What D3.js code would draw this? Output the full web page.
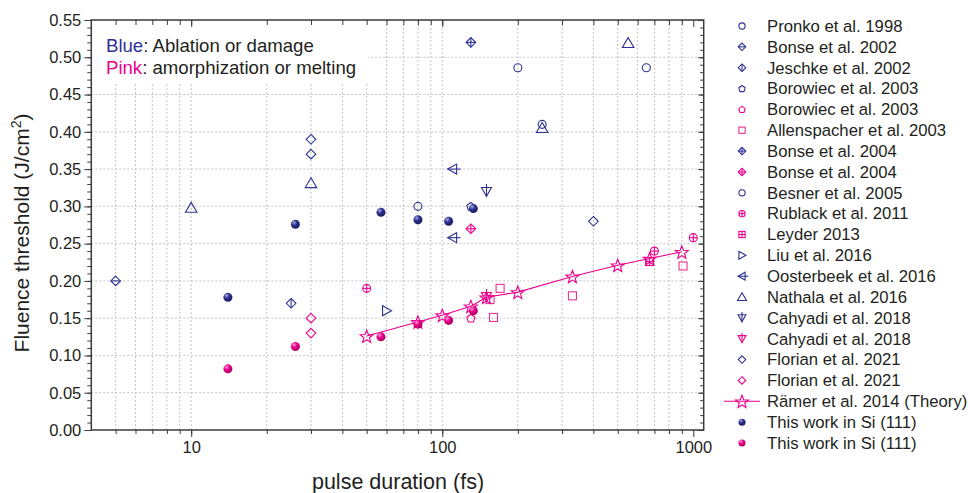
<!DOCTYPE html>
<html><head><meta charset="utf-8">
<script src="https://cdn.jsdelivr.net/npm/d3@7"></script>
<style>body{margin:0;background:#fff}svg{display:block;font-family:"Liberation Sans",Arial,sans-serif}</style>
</head><body><svg id="c" width="970" height="493"></svg>
<script>
// ---- data ----
const xTicks = [10, 100, 1000];
const yTicks = [0, 0.05, 0.10, 0.15, 0.20, 0.25, 0.30, 0.35, 0.40, 0.45, 0.50, 0.55];
const pronkoX = [200, 650], pronkoY = [0.486, 0.486];
const bonse2002X = [5], bonse2002Y = [0.200];
const jeschkeX = [25], jeschkeY = [0.170];
const borowiecBX = [130], borowiecBY = [0.300];
const borowiecPX = [130], borowiecPY = [0.150];
const allenX = [155, 160, 170, 330, 910], allenY = [0.175, 0.151, 0.190, 0.180, 0.220];
const bonse2004BX = [130], bonse2004BY = [0.520];
const bonse2004PX = [130], bonse2004PY = [0.270];
const besnerX = [80, 250], besnerY = [0.300, 0.410];
const rublackX = [50, 700, 1000], rublackY = [0.190, 0.240, 0.258];
const leyderX = [670], leyderY = [0.226];
const liuX = [60], liuY = [0.160];
const oosterX = [110, 110], oosterY = [0.350, 0.258];
const nathalaX = [10, 30, 250, 550], nathalaY = [0.298, 0.331, 0.405, 0.519];
const cahyadiBX = [150], cahyadiBY = [0.320];
const cahyadiPX = [150], cahyadiPY = [0.179];
const florianBX = [30, 30, 400], florianBY = [0.390, 0.370, 0.280];
const florianPX = [30, 30], florianPY = [0.150, 0.130];
const ramerX = [50, 80, 100, 130, 150, 200, 330, 500, 670, 900];
const ramerY = [0.126, 0.145, 0.154, 0.166, 0.178, 0.185, 0.206, 0.221, 0.230, 0.239];
const thisX = [14, 26, 57, 80, 106, 133];
const thisBY = [0.178, 0.276, 0.292, 0.282, 0.280, 0.297];
const thisPY = [0.082, 0.112, 0.125, 0.142, 0.147, 0.160];

const BLUE = "#2e3192", PINK = "#ec008c", PINKL = "#e8338f";
const series = [
  {name: "Pronko et al. 1998", sym: "circle", c: BLUE, x: pronkoX, y: pronkoY},
  {name: "Bonse et al. 2002", sym: "diamondH", c: BLUE, x: bonse2002X, y: bonse2002Y},
  {name: "Jeschke et al. 2002", sym: "diamondV", c: BLUE, x: jeschkeX, y: jeschkeY},
  {name: "Borowiec et al. 2003", sym: "pentagon", c: BLUE, x: borowiecBX, y: borowiecBY},
  {name: "Borowiec et al. 2003", sym: "pentagon", c: PINK, x: borowiecPX, y: borowiecPY},
  {name: "Allenspacher et al. 2003", sym: "square", c: PINKL, x: allenX, y: allenY},
  {name: "Bonse et al. 2004", sym: "diamondP", c: BLUE, x: bonse2004BX, y: bonse2004BY},
  {name: "Bonse et al. 2004", sym: "diamondP", c: PINK, x: bonse2004PX, y: bonse2004PY},
  {name: "Besner et al. 2005", sym: "circle", c: BLUE, x: besnerX, y: besnerY},
  {name: "Rublack et al. 2011", sym: "circleP", c: PINK, x: rublackX, y: rublackY},
  {name: "Leyder 2013", sym: "squareP", c: PINK, x: leyderX, y: leyderY},
  {name: "Liu et al. 2016", sym: "triRight", c: BLUE, x: liuX, y: liuY},
  {name: "Oosterbeek et al. 2016", sym: "triLeft", c: BLUE, x: oosterX, y: oosterY},
  {name: "Nathala et al. 2016", sym: "triUp", c: BLUE, x: nathalaX, y: nathalaY},
  {name: "Cahyadi et al. 2018", sym: "triDown", c: BLUE, x: cahyadiBX, y: cahyadiBY},
  {name: "Cahyadi et al. 2018", sym: "triDown", c: PINK, x: cahyadiPX, y: cahyadiPY},
  {name: "Florian et al. 2021", sym: "diamond", c: BLUE, x: florianBX, y: florianBY},
  {name: "Florian et al. 2021", sym: "diamond", c: PINK, x: florianPX, y: florianPY},
  {name: "Rämer et al. 2014 (Theory)", sym: "star", c: PINK, x: ramerX, y: ramerY, line: true},
  {name: "This work in Si (111)", sym: "sphereB", c: BLUE, x: thisX, y: thisBY},
  {name: "This work in Si (111)", sym: "sphereP", c: PINK, x: thisX, y: thisPY}
];

// ---- layout ----
const svg = d3.select("#c");
const L = 91.3, R = 703.7, T = 20, B = 430;
const x = d3.scaleLog().domain([4, 1100]).range([L, R]);
const y = d3.scaleLinear().domain([0, 0.55]).range([B, T]);
const TXT = "#231f20", AX = "#3a3a3a", GRID = "#c4c4c4";

const defs = svg.append("defs");
function grad(id, hi, mid, lo) {
  const g = defs.append("radialGradient").attr("id", id).attr("cx", "35%").attr("cy", "30%").attr("r", "70%");
  g.append("stop").attr("offset", "0%").attr("stop-color", hi);
  g.append("stop").attr("offset", "45%").attr("stop-color", mid);
  g.append("stop").attr("offset", "100%").attr("stop-color", lo);
}
grad("gB", "#a9acdf", "#2e3192", "#1a1c5c");
grad("gP", "#ff9fd2", "#ec008c", "#a8005f");

const minorX = [];
[1, 10, 100].forEach(d => { for (let k = 1; k <= 9; k++) { const v = d * k; if (v >= 5 && v <= 1000) minorX.push(v); } });
const minorY = d3.range(0, 56).map(i => i / 100);

// grid
const grid = svg.append("g").attr("stroke", GRID).attr("stroke-width", 1).attr("stroke-dasharray", "2,2");
minorX.forEach(v => grid.append("line").attr("x1", x(v)).attr("x2", x(v)).attr("y1", T).attr("y2", B));
yTicks.slice(1, -1).forEach(v => grid.append("line").attr("x1", L).attr("x2", R).attr("y1", y(v)).attr("y2", y(v)));

// annotation box
svg.append("rect").attr("x", L + 1).attr("y", T + 1).attr("width", 276).attr("height", 61).attr("fill", "#fff");
const ann = svg.append("g").attr("font-size", 18.6).attr("fill", TXT);
const a1 = ann.append("text").attr("x", 106).attr("y", 52);
a1.append("tspan").attr("fill", BLUE).text("Blue");
a1.append("tspan").text(": Ablation or damage");
const a2 = ann.append("text").attr("x", 106).attr("y", 74);
a2.append("tspan").attr("fill", PINK).text("Pink");
a2.append("tspan").text(": amorphization or melting");

// axes
function styleAxis(g) { g.select(".domain").remove(); g.selectAll("line").attr("stroke", AX); g.selectAll("text").attr("fill", TXT).attr("font-size", 16.5).attr("font-family", "Liberation Sans, Arial, sans-serif"); }
svg.append("g").attr("transform", `translate(0,${B})`).call(d3.axisBottom(x).tickValues(minorX).tickFormat("").tickSize(4)).call(styleAxis);
svg.append("g").attr("transform", `translate(0,${B})`).call(d3.axisBottom(x).tickValues(xTicks).tickFormat(d3.format("d")).tickSize(7).tickPadding(4)).call(styleAxis);
svg.append("g").attr("transform", `translate(0,${T})`).call(d3.axisTop(x).tickValues(minorX).tickFormat("").tickSize(-5)).call(styleAxis);
svg.append("g").attr("transform", `translate(0,${T})`).call(d3.axisTop(x).tickValues(xTicks).tickFormat("").tickSize(-7)).call(styleAxis);
svg.append("g").attr("transform", `translate(${L},0)`).call(d3.axisLeft(y).tickValues(minorY).tickFormat("").tickSize(4)).call(styleAxis);
svg.append("g").attr("transform", `translate(${L},0)`).call(d3.axisLeft(y).tickValues(yTicks).tickFormat(d3.format(".2f")).tickSize(7).tickPadding(3)).call(styleAxis);
svg.append("g").attr("transform", `translate(${R},0)`).call(d3.axisRight(y).tickValues(minorY).tickFormat("").tickSize(-3.5)).call(styleAxis);
svg.append("g").attr("transform", `translate(${R},0)`).call(d3.axisRight(y).tickValues(yTicks).tickFormat("").tickSize(-5.5)).call(styleAxis);
svg.append("rect").attr("x", L).attr("y", T).attr("width", R - L).attr("height", B - T).attr("fill", "none").attr("stroke", AX).attr("stroke-width", 1.5);

// titles
svg.append("text").attr("x", 398).attr("y", 489).attr("text-anchor", "middle").attr("font-size", 21.5).attr("fill", TXT).text("pulse duration (fs)");
const yt = svg.append("text").attr("transform", "translate(29,233) rotate(-90)").attr("text-anchor", "middle").attr("font-size", 21).attr("fill", TXT);
yt.append("tspan").text("Fluence threshold (J/cm");
yt.append("tspan").attr("font-size", 14).attr("dy", -8).text("2");
yt.append("tspan").attr("dy", 8).text(")");

// symbols
function drawSym(g, sym, c, s) {
  const sw = 1.1;
  const add = (tag) => g.append(tag).attr("fill", "none").attr("stroke", c).attr("stroke-width", sw);
  const line = (x1, y1, x2, y2) => add("line").attr("x1", x1).attr("y1", y1).attr("x2", x2).attr("y2", y2);
  const poly = (pts) => add("polygon").attr("points", pts.map(p => p.join(",")).join(" "));
  const r = 4 * s, d = 4.8 * s;
  switch (sym) {
    case "circle": add("circle").attr("r", r); break;
    case "circleP": add("circle").attr("r", r); line(-r, 0, r, 0); line(0, -r, 0, r); break;
    case "diamond": poly([[0, -d], [d, 0], [0, d], [-d, 0]]); break;
    case "diamondH": poly([[0, -d], [d, 0], [0, d], [-d, 0]]); line(-d, 0, d, 0); break;
    case "diamondV": poly([[0, -d], [d, 0], [0, d], [-d, 0]]); line(0, -d, 0, d); break;
    case "diamondP": poly([[0, -d], [d, 0], [0, d], [-d, 0]]); line(-d, 0, d, 0); line(0, -d, 0, d); break;
    case "square": add("rect").attr("x", -r).attr("y", -r).attr("width", 2 * r).attr("height", 2 * r); break;
    case "squareP": add("rect").attr("x", -r).attr("y", -r).attr("width", 2 * r).attr("height", 2 * r); line(-r, 0, r, 0); line(0, -r, 0, r); break;
    case "pentagon": { const p = d3.range(5).map(i => { const a = -Math.PI / 2 + i * 2 * Math.PI / 5; return [4.3 * s * Math.cos(a), 4.3 * s * Math.sin(a) + 0.4 * s]; }); poly(p); break; }
    case "triUp": { const h = 5.5 * s; poly([[0, -h], [h * 1.05, h * 0.8], [-h * 1.05, h * 0.8]]); break; }
    case "triRight": { const h = 5 * s; poly([[h, 0], [-h * 0.8, -h], [-h * 0.8, h]]); break; }
    case "triLeft": { const h = 5 * s; poly([[-h, 0], [h * 0.8, -h], [h * 0.8, h]]); line(-h, 0, h * 1.6, 0); break; }
    case "triDown": { const h = 5 * s; poly([[0, h], [h, -h * 0.8], [-h, -h * 0.8]]); line(0, -h * 1.5, 0, h); break; }
    case "star": { const ro = 6.8 * s, ri = 2.9 * s; const p = d3.range(10).map(i => { const a = -Math.PI / 2 + i * Math.PI / 5; const rr = i % 2 ? ri : ro; return [rr * Math.cos(a), rr * Math.sin(a) + 0.8 * s]; }); poly(p); break; }
    case "sphereB": g.append("circle").attr("r", 4.5 * s).attr("fill", "url(#gB)"); break;
    case "sphereP": g.append("circle").attr("r", 4.5 * s).attr("fill", "url(#gP)"); break;
  }
}

// plot
const plot = svg.append("g");
series.forEach(sr => {
  const pts = sr.x.map((v, i) => [v, sr.y[i]]);
  if (sr.line) {
    plot.append("path").datum(pts).attr("fill", "none").attr("stroke", sr.c).attr("stroke-width", 1.1)
      .attr("d", d3.line().x(p => x(p[0])).y(p => y(p[1])));
  }
  pts.forEach(p => {
    const g = plot.append("g").attr("transform", `translate(${x(p[0])},${y(p[1])})`);
    drawSym(g, sr.sym, sr.c, 1);
  });
});

// legend
const leg = svg.append("g");
series.forEach((sr, i) => {
  const yy = 26 + i * 20.85;
  const g = leg.append("g").attr("transform", `translate(742,${yy})`);
  if (sr.line) g.append("line").attr("x1", -18).attr("x2", 18).attr("stroke", sr.c).attr("stroke-width", 1.1);
  drawSym(g, sr.sym, sr.c, sr.line ? 1 : 0.78);
  leg.append("text").attr("x", 767).attr("y", yy).attr("dy", "0.35em").attr("font-size", 16.7).attr("fill", TXT).text(sr.name);
});
</script></body></html>
